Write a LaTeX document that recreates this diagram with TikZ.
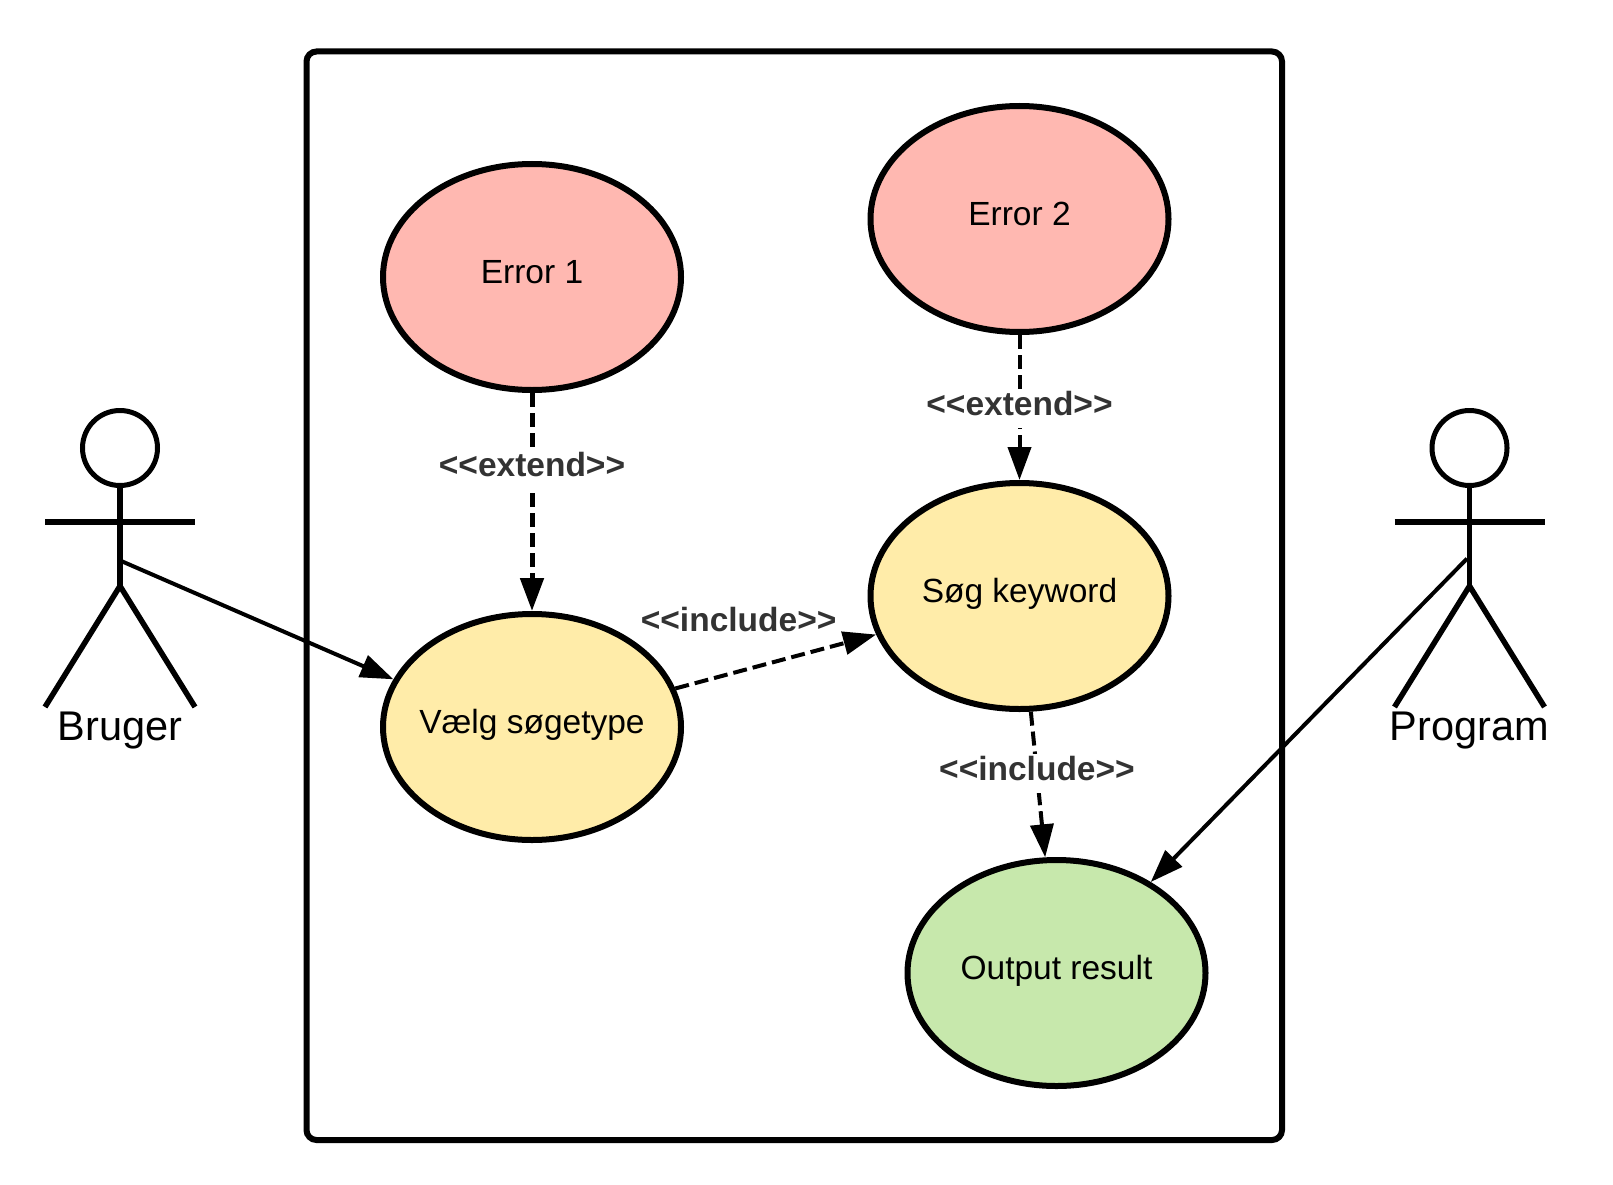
\documentclass[tikz,border=0pt]{standalone}
\usepackage{fontspec}
\setmainfont{Liberation Sans}
\usepackage{xcolor}
\usetikzlibrary{
	arrows.meta,
	shapes.geometric
}
\definecolor{errorfill}{HTML}{FFB8B1}
\definecolor{stepfill}{HTML}{FFECA9}
\definecolor{resultfill}{HTML}{C7E8AC}
\definecolor{labelgrey}{HTML}{333333}
\tikzset{
	usecase/.style={ellipse, draw, line width=6pt, minimum width=298pt, minimum height=226pt, inner sep=0pt, font=\fontsize{33.5}{40}\selectfont},
	actorline/.style={line width=5.5pt, line join=round},
	actorname/.style={font=\fontsize{41.5}{48}\selectfont, inner sep=0pt},
	stereo/.style={font=\fontsize{33.5}{40}\selectfont\bfseries, text=labelgrey, inner xsep=5pt, inner ysep=0pt, text height=26pt, text depth=13pt},
	solidarrow/.style={line width=4pt, -{Triangle[length=33pt,width=23pt]}},
	dasharrow/.style={line width=4pt, dash pattern=on 14pt off 6pt, -{Triangle[length=33pt,width=23pt]}}
}
\newcommand{\lowered}[1]{\raisebox{-6.5pt}[0pt][0pt]{\makebox[0pt]{#1}}}

\begin{document}
\begin{tikzpicture}[x=1pt, y=-1pt]
	\useasboundingbox (0,0) rectangle (1613,1185);
	\draw[line width=6pt, rounded corners=10pt] (306.5,51.5) rectangle (1282,1140);

	\node[usecase, fill=errorfill] (error1) at (532,277) {\lowered{Error 1}};
	\node[usecase, fill=errorfill] (error2) at (1019.5,219) {\lowered{Error 2}};
	\node[usecase, fill=stepfill] (vaelg) at (532,727) {\lowered{Vælg søgetype}};
	\node[usecase, fill=stepfill] (soeg) at (1019.5,596) {\lowered{Søg keyword}};
	\node[usecase, fill=resultfill] (output) at (1056.5,973) {\lowered{Output result}};

	% actors
	\foreach \name/\x/\txt in {bruger/120/Bruger, program/1469.5/Program} {
		\node[circle, draw, line width=5pt, minimum size=75pt, inner sep=0pt] (\name) at (\x,448) {};
		\draw[actorline] (\name.south) -- (\x,586);
		\draw[actorline] (\x-75,522) -- (\x+75,522);
		\draw[actorline] (\x-75,707) -- (\x,586) -- (\x+75,707);
		\node[actorname] (\name name) at (\x,731) {\txt};
	}
	\coordinate (brugerhand) at (120,560.5);
	\coordinate (programhand) at (1467,558.6);

	\draw[solidarrow] (brugerhand) -- (vaelg.161);
	\draw[solidarrow] (programhand) -- (output.44);

	\draw[dasharrow, line width=5pt] (error1) -- node[stereo, fill=white, pos=.355] (extend1) {<{}<extend>{}>} (vaelg);
	\draw[dasharrow] (error2) -- node[stereo, fill=white, pos=.507] (extend2) {<{}<extend>{}>} (soeg);
	\draw[dasharrow] (vaelg) -- (soeg);
	\node[stereo] (include1) at (738.6,625) {<{}<include>{}>};
	\draw[dasharrow] (soeg) -- node[stereo, fill=white, pos=.427] (include2) {<{}<include>{}>} (output);
\end{tikzpicture}
\end{document}
